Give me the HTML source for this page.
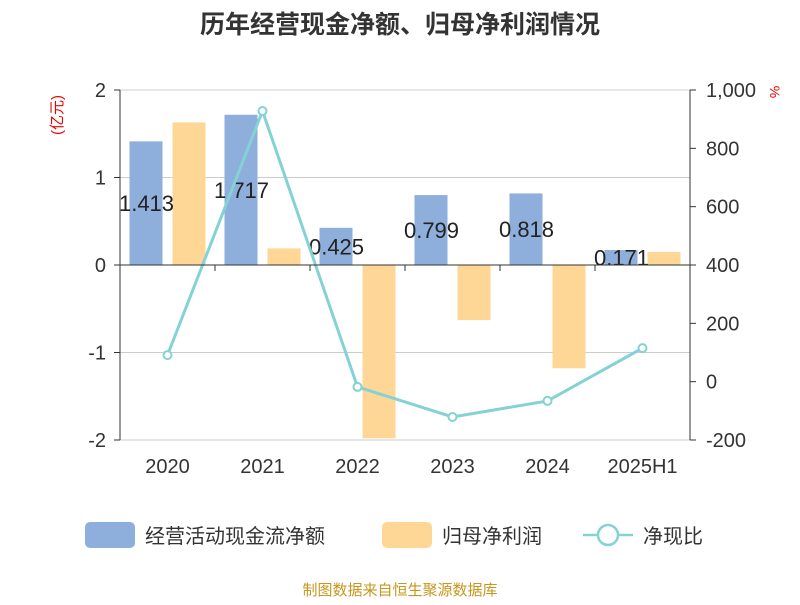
<!DOCTYPE html>
<html><head><meta charset="utf-8">
<style>
body{margin:0;background:#fff;}
svg text{font-family:"Liberation Sans","Noto Sans CJK SC",sans-serif;}
</style></head>
<body>
<svg id="chart" width="800" height="600" xmlns="http://www.w3.org/2000/svg">
<text x="400" y="33" text-anchor="middle" font-size="25" font-weight="bold" fill="#333">历年经营现金净额、归母净利润情况</text>
<g id="grid"></g>
<g id="bars"></g>
<g id="line"></g>
<g id="axes"></g>
<text x="62" y="115" text-anchor="middle" font-size="15" fill="#e00" transform="rotate(-90 62 115)">(亿元)</text>
<text x="770" y="92" text-anchor="middle" font-size="14" fill="#e00" transform="rotate(90 770 92)">%</text>
<g>
<rect x="85" y="522" width="50" height="26" rx="5" fill="#8eaedb"/>
<text x="145" y="543" font-size="20" fill="#333">经营活动现金流净额</text>
<rect x="382" y="522" width="50" height="26" rx="5" fill="#fed796"/>
<text x="442" y="543" font-size="20" fill="#333">归母净利润</text>
<line x1="583" y1="535" x2="633" y2="535" stroke="#84d2d4" stroke-width="2.5"/>
<circle cx="608" cy="535" r="10" fill="#fff" stroke="#84d2d4" stroke-width="2.5"/>
<text x="643" y="543" font-size="20" fill="#333">净现比</text>
</g>
<text x="400" y="595" text-anchor="middle" font-size="15" fill="#c8961e">制图数据来自恒生聚源数据库</text>
</svg>
<script>
const categories=["2020","2021","2022","2023","2024","2025H1"];
const cashflow=[1.413,1.717,0.425,0.799,0.818,0.171];
const profit=[1.63,0.19,-1.98,-0.63,-1.18,0.15];
const ratio=[91,928,-18,-121,-66,115];
const leftTicks=[2,1,0,-1,-2];
const rightTicks=[1000,800,600,400,200,0,-200];
const rightTickLabels=["1,000","800","600","400","200","0","-200"];

const NS="http://www.w3.org/2000/svg";
const X0=120,X1=690,Y0=90,Y1=440;
const bw=(X1-X0)/categories.length;
const yL=v=>Y0+(2-v)/4*(Y1-Y0);
const yR=v=>Y0+(1000-v)/1200*(Y1-Y0);
const xC=i=>X0+bw*(i+0.5);
function mk(tag,attrs,parent,txt){const e=document.createElementNS(NS,tag);for(const k in attrs)e.setAttribute(k,attrs[k]);if(txt!==undefined)e.textContent=txt;document.getElementById(parent).appendChild(e);return e;}

leftTicks.forEach(t=>{
 const g=mk("line",{x1:X0,x2:X1,y1:yL(t),y2:yL(t),stroke:"#ccc","stroke-width":1},"grid");
 
 
 const l=mk("text",{x:X0-14,y:yL(t)+7,"text-anchor":"end","font-size":20,fill:"#333"},"axes",String(t));
 
 
 const tk=mk("line",{x1:X0-6,x2:X0,y1:yL(t),y2:yL(t),stroke:"#333"},"axes");
 
 
});
rightTicks.forEach((t,i)=>{
 const l=mk("text",{x:X1+16,y:yR(t)+7,"font-size":20,fill:"#333"},"axes",rightTickLabels[i]);
 
 
 const tk=mk("line",{x1:X1,x2:X1+6,y1:yR(t),y2:yR(t),stroke:"#333"},"axes");
 
 
});
let a=mk("line",{x1:X0,x2:X0,y1:Y0,y2:Y1,stroke:"#333"},"axes");


a=mk("line",{x1:X1,x2:X1,y1:Y0,y2:Y1,stroke:"#333"},"axes");


a=mk("line",{x1:X0,x2:X1,y1:yL(0),y2:yL(0),stroke:"#333"},"axes");



categories.forEach((c,i)=>{
 const cx=xC(i);
 const t=mk("text",{x:cx,y:473,"text-anchor":"middle","font-size":20,fill:"#333"},"axes",c);
 
 
 const tk=mk("line",{x1:X0+bw*(i+1),x2:X0+bw*(i+1),y1:yL(0),y2:yL(0)+6,stroke:"#333"},"axes");
 
 
 const v=cashflow[i];
 const b=mk("rect",{x:cx-38,width:33,y:Math.min(yL(v),yL(0)),height:Math.abs(yL(v)-yL(0)),fill:"#8eaedb"},"bars");
 
 
 const p=profit[i];
 const b2=mk("rect",{x:cx+5,width:33,y:Math.min(yL(p),yL(0)),height:Math.abs(yL(p)-yL(0)),fill:"#fed796"},"bars");
 
 
 const lb=mk("text",{x:cx-21,y:(yL(v)+yL(0))/2+8,"text-anchor":"middle","font-size":22,fill:"#222"},"bars",v.toFixed(3));
 
 
});
const pts=ratio.map((v,i)=>xC(i)+","+yR(v)).join(" ");
const pl=mk("polyline",{points:pts,fill:"none",stroke:"#84d2d4","stroke-width":3},"line");


ratio.forEach((v,i)=>{
 const c=mk("circle",{cx:xC(i),cy:yR(v),r:4,fill:"#fff",stroke:"#84d2d4","stroke-width":2},"line");
 
 
});
</script>
</body></html>
